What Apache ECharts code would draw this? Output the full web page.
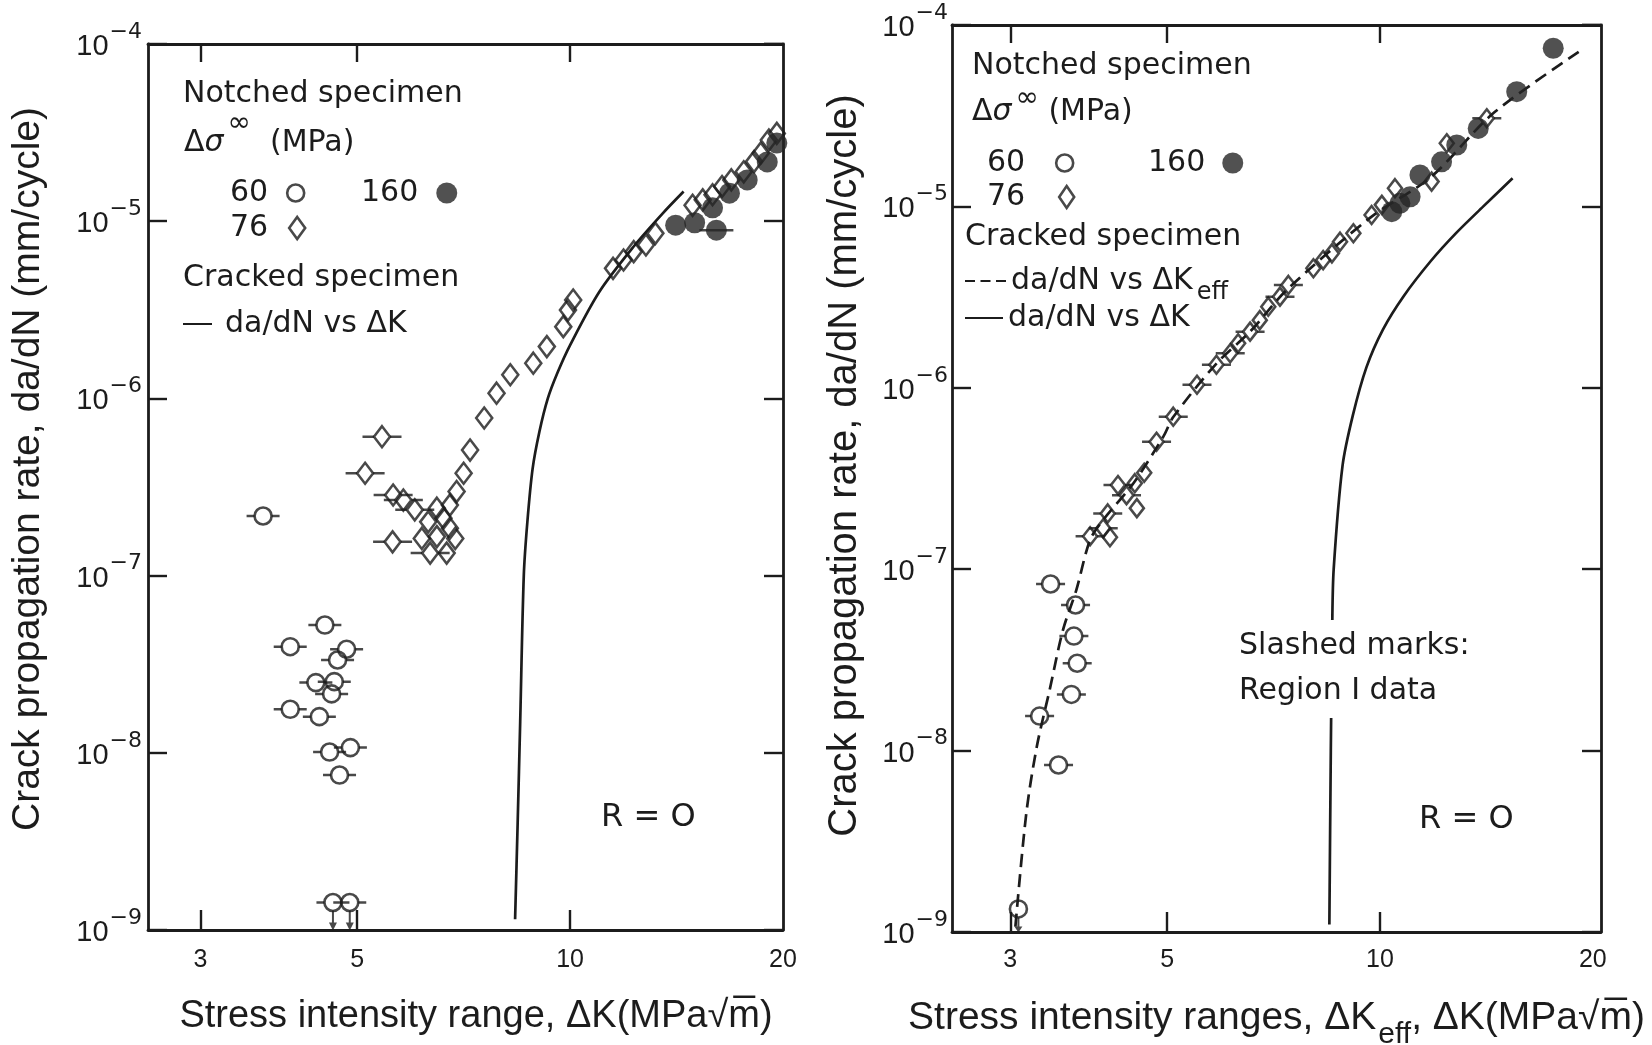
<!DOCTYPE html>
<html>
<head>
<meta charset="utf-8">
<title>Crack propagation rate vs stress intensity range</title>
<script src="https://cdn.jsdelivr.net/npm/echarts@6/dist/echarts.min.js"></script>
<style>
html, body { margin: 0; padding: 0; background: #fff; }
#chart { width: 1652px; height: 1045px; }
</style>
</head>
<body>
<div id="chart"></div>
<script>
// ---------- tick values (ΔK, MPa√m) ----------
const kLabels = [3, 5, 10, 20];
const kTickMarks = [3, 5, 10];

// ---------- left panel: da/dN vs ΔK ----------
// notched, Δσ∞ = 60 MPa (all region I data)
const left60 = [[3.68, 2.17e-7], [4.50, 5.26e-8], [4.02, 3.97e-8], [4.83, 3.84e-8], [4.69, 3.34e-8],
  [4.37, 2.49e-8], [4.64, 2.52e-8], [4.60, 2.15e-8], [4.02, 1.76e-8], [4.42, 1.60e-8],
  [4.57, 1.01e-8], [4.89, 1.07e-8], [4.72, 7.49e-9]];
// non-propagating, plotted at the lower limit
const left60Below = [[4.62, 1.43e-9], [4.88, 1.43e-9]];
// notched, Δσ∞ = 76 MPa
const left76 = [[6.17, 1.62e-7], [6.30, 2.01e-7], [6.48, 2.40e-7], [6.48, 1.66e-7], [6.62, 2.11e-7],
  [6.69, 1.34e-7], [6.76, 2.50e-7], [6.76, 1.85e-7], [6.88, 1.62e-7], [6.91, 2.98e-7],
  [7.07, 3.78e-7], [7.22, 5.11e-7], [7.56, 7.75e-7], [7.87, 1.07e-6], [8.23, 1.36e-6],
  [8.87, 1.58e-6], [9.27, 1.96e-6], [9.78, 2.54e-6], [9.93, 3.15e-6], [10.1, 3.59e-6],
  [11.5, 5.42e-6], [11.9, 6.04e-6], [12.3, 6.73e-6], [12.8, 7.34e-6], [13.2, 8.54e-6],
  [14.9, 1.23e-5], [15.4, 1.32e-5], [15.9, 1.41e-5], [16.4, 1.57e-5], [16.9, 1.71e-5],
  [17.6, 1.90e-5], [18.2, 2.17e-5], [18.6, 2.42e-5], [19.1, 2.87e-5], [19.6, 3.13e-5]];
const left76Slashed = [[5.13, 3.78e-7], [5.42, 6.08e-7], [5.61, 1.55e-7], [5.62, 2.85e-7],
  [5.81, 2.67e-7], [6.03, 2.35e-7], [6.34, 1.34e-7]];
// notched, Δσ∞ = 160 MPa
const left160 = [[14.1, 9.5e-6], [15.0, 9.8e-6], [15.9, 1.19e-5], [16.8, 1.44e-5],
  [17.8, 1.71e-5], [19.0, 2.16e-5], [19.6, 2.76e-5]];
const left160Slashed = [[16.1, 8.9e-6]];
// cracked specimen, da/dN vs ΔK
const leftCrackedDK = [[8.36, 1.15e-9], [8.43, 4e-9], [8.5, 1.5e-8], [8.6, 1e-7], [8.7, 2e-7],
  [8.85, 4e-7], [9.05, 6.5e-7], [9.3, 1e-6], [9.6, 1.4e-6], [10.0, 2e-6], [11.0, 4e-6],
  [12.3, 7.2e-6], [13.5, 1.1e-5], [14.47, 1.47e-5]];

// ---------- right panel: da/dN vs ΔK_eff ----------
const right60 = [[3.30, 1.55e-8], [3.42, 8.29e-8], [3.51, 8.33e-9], [3.66, 2.04e-8],
  [3.69, 4.28e-8], [3.71, 6.35e-8], [3.73, 3.03e-8]];
const right60Below = [[3.08, 1.34e-9]];
const right76 = [[4.15, 1.50e-7], [4.50, 2.98e-7], [4.53, 2.17e-7], [4.64, 3.40e-7], [6.30, 1.76e-6],
  [6.76, 2.36e-6], [6.95, 2.80e-6], [8.05, 4.56e-6], [8.31, 5.06e-6], [8.55, 5.51e-6],
  [8.78, 6.39e-6], [9.17, 7.11e-6], [9.73, 8.97e-6], [10.06, 1.02e-5], [10.5, 1.26e-5],
  [11.83, 1.37e-5], [12.43, 2.23e-5]];
const right76Slashed = [[3.89, 1.52e-7], [4.06, 1.68e-7], [4.12, 2.03e-7], [4.26, 2.91e-7],
  [4.38, 2.56e-7], [4.83, 5.04e-7], [5.10, 6.93e-7], [5.51, 1.04e-6], [5.87, 1.34e-6],
  [6.14, 1.55e-6], [6.55, 2.04e-6], [7.22, 3.18e-6], [7.42, 3.69e-6], [14.16, 3.06e-5]];
const right160 = [[10.39, 9.35e-6], [10.67, 1.04e-5], [11.03, 1.13e-5], [11.39, 1.49e-5],
  [12.22, 1.76e-5], [12.84, 2.18e-5], [13.77, 2.69e-5], [15.61, 4.29e-5], [17.58, 7.44e-5]];
// cracked specimen fits
const rightCrackedDKeff = [[3.05, 1.07e-9], [3.16, 4.5e-9], [3.27, 1.05e-8], [3.41, 2.16e-8],
  [3.56, 4.6e-8], [3.72, 7.7e-8], [3.89, 1.45e-7], [4.06, 1.87e-7], [4.48, 2.98e-7],
  [4.94, 5.4e-7], [5.10, 6.9e-7], [5.87, 1.36e-6], [6.55, 2.04e-6], [7.38, 3.46e-6],
  [9.7, 8.7e-6], [11.8, 1.45e-5], [14.46, 3.26e-5], [19.1, 7.1e-5]];
const rightCrackedDK = [[8.48, 1.1e-9], [8.52, 1e-8], [8.56, 5e-8], [8.6, 1e-7], [8.85, 3.7e-7],
  [9.15, 7e-7], [9.57, 1.3e-6], [10.1, 2.1e-6], [10.8, 3.2e-6], [11.8, 5.0e-6],
  [12.8, 7.1e-6], [14.0, 1.0e-5], [15.4, 1.43e-5]];

// ---------- styling ----------
const FONT = 'DejaVu Sans';
const FONT_AX = 'Liberation Sans';
const INK = '#1c1c1c';
const OPEN = { color: 'transparent', borderColor: INK, borderWidth: 2.6 };
const FILLED = { color: '#262626' };
const ARROW = 'path://M3,0H5V12H3Z M0,12H8L4,20Z';

// two short bars either side of a marker (slashed = region I data)
function barPath(total, gap) {
  const s = (total - gap) / 2;
  return 'path://M0,0H' + s + 'V1H0Z M' + (s + gap) + ',0H' + total + 'V1H' + (s + gap) + 'Z';
}

function scatter(name, g, data, symbol, size, style, z) {
  return {
    type: 'scatter', name: name, xAxisIndex: 2 * g, yAxisIndex: 2 * g, data: data,
    symbol: symbol, symbolSize: size, itemStyle: style, z: z || 4, silent: true,
    emphasis: { disabled: true }
  };
}
function slash(g, data, total, gap) {
  return scatter('region I', g, data, gap ? barPath(total, gap) : 'rect', [total, 2.5], { color: INK }, 3);
}
function arrow(g, data, len, off) {
  const s = scatter('below limit', g, data, ARROW, [8, len], { color: INK }, 3);
  s.symbolOffset = [0, off];
  return s;
}
function curve(name, g, data, dashed) {
  return {
    type: 'line', name: name, xAxisIndex: 2 * g, yAxisIndex: 2 * g, data: data,
    smooth: 0.3, symbol: 'none', silent: true, z: 2,
    lineStyle: { color: INK, width: 2.7, type: dashed ? [13, 7] : 'solid' }
  };
}

// ---------- axes ----------
function kAxes(g, min, max, name, nameGap, nameStyle, labelMargin) {
  const common = {
    type: 'log', gridIndex: g, min: min, max: max,
    axisLine: { show: true, lineStyle: { color: INK, width: 2.8 } },
    splitLine: { show: false }, minorTick: { show: false }, minorSplitLine: { show: false }
  };
  return [
    Object.assign({}, common, {
      position: 'bottom',
      axisTick: { show: true, inside: true, length: 20, customValues: kTickMarks, lineStyle: { color: INK, width: 2.4 } },
      axisLabel: {
        show: true, customValues: kLabels, margin: labelMargin, color: INK,
        fontFamily: FONT_AX, fontSize: 25, formatter: v => String(Math.round(v))
      },
      name: name, nameLocation: 'middle', nameGap: nameGap, nameMoveOverlap: false,
      nameTextStyle: nameStyle
    }),
    Object.assign({}, common, {
      position: 'top',
      axisTick: { show: true, inside: true, length: 18, customValues: kTickMarks, lineStyle: { color: INK, width: 2.4 } },
      axisLabel: { show: false }
    })
  ];
}
function rateAxes(g, nameGap, namePad, nameSize, labelMargin) {
  const common = {
    type: 'log', logBase: 10, gridIndex: g, min: 1e-9, max: 1e-4,
    axisLine: { show: true, lineStyle: { color: INK, width: 2.8 } },
    splitLine: { show: false }, minorTick: { show: false }, minorSplitLine: { show: false }
  };
  return [
    Object.assign({}, common, {
      position: 'left',
      axisTick: { show: true, inside: true, length: 19, lineStyle: { color: INK, width: 2.4 } },
      axisLabel: {
        show: true, margin: labelMargin, showMinLabel: true, showMaxLabel: true,
        lineHeight: 29,
        formatter: v => '{b|10}{s|\u2212' + Math.round(-Math.log10(v)) + '}',
        rich: {
          b: { fontFamily: FONT_AX, fontSize: 29, color: INK, lineHeight: 29, padding: [6, 0, 0, 0] },
          s: { fontFamily: FONT, fontSize: 22, color: INK, padding: [0, 0, 24, 1], lineHeight: 29 }
        }
      },
      name: 'Crack propagation rate, da/dN (mm/cycle)',
      nameLocation: 'middle', nameRotate: 90, nameGap: nameGap, nameMoveOverlap: false,
      nameTextStyle: { fontFamily: FONT_AX, fontSize: nameSize, color: INK, padding: [0, 0, 0, namePad] }
    }),
    Object.assign({}, common, {
      position: 'right',
      axisTick: { show: true, inside: true, length: 19, lineStyle: { color: INK, width: 2.4 } },
      axisLabel: { show: false }
    })
  ];
}

const xAxes = []
  .concat(kAxes(0, 2.53, 20, 'Stress intensity range, \u0394K(MPa\u221Am\u0305)', 68,
    { fontFamily: FONT_AX, fontSize: 38, color: INK, padding: [0, 0, 0, 21] }, 18))
  .concat(kAxes(1, 2.481, 20.54, '{a|Stress intensity ranges, \u0394K}{s|eff}{a|, \u0394K(MPa\u221Am\u0305)}', 67,
    {
      color: INK, lineHeight: 39,
      rich: {
        a: { fontFamily: FONT_AX, fontSize: 39, color: INK, lineHeight: 39 },
        s: { fontFamily: FONT_AX, fontSize: 30, color: INK, lineHeight: 39, padding: [33, 0, 0, 2] }
      }
    }, 16));
const yAxes = [].concat(rateAxes(0, 100, 36, 39, 6)).concat(rateAxes(1, 87, 26, 40, 4));

// ---------- legends ----------
const LEGEND_TEXT = { fontFamily: FONT, fontSize: 30, color: INK, lineHeight: 30 };
function keyLegend(name, left, top, icon, w, h, style, padRight) {
  return {
    left: left, top: top, padding: 0, itemGap: 0, align: 'right', selectedMode: false,
    itemWidth: w, itemHeight: h,
    data: [{ name: name, icon: icon, itemStyle: style }],
    textStyle: Object.assign({}, LEGEND_TEXT, { padding: [0, padRight, 0, 0] })
  };
}
function lineLegend(name, left, top, icon, w, padLeft, formatter) {
  const lg = {
    left: left, top: top, padding: 0, itemGap: 0, align: 'left', selectedMode: false,
    itemWidth: w, itemHeight: 2.6,
    data: [{ name: name, icon: icon, itemStyle: { color: INK, borderWidth: 0 } }],
    textStyle: Object.assign({}, LEGEND_TEXT, {
      padding: [0, 0, 0, padLeft],
      rich: {
        t: { fontFamily: FONT, fontSize: 30, color: INK, lineHeight: 30 },
        s: { fontFamily: FONT, fontSize: 24, color: INK, lineHeight: 30, padding: [24, 0, 0, 4] }
      }
    })
  };
  if (formatter) lg.formatter = formatter;
  return lg;
}
const DASH_ICON = 'path://M0,0h10v2h-10z M15.5,0h10v2h-10z M31,0h10v2h-10z';
const legends = [
  keyLegend('60', 230, 178, 'circle', 17, 17, OPEN, 14),
  keyLegend('160', 361, 178, 'circle', 21, 21, FILLED, 13),
  keyLegend('76', 230, 213, 'diamond', 16, 22, OPEN, 16),
  lineLegend('da/dN vs \u0394K', 183, 309, 'path://M0,0H29V2H0Z', 29, 8),
  keyLegend('60', 987, 148, 'circle', 17, 17, OPEN, 26),
  keyLegend('160', 1148, 148, 'circle', 21, 21, FILLED, 12),
  keyLegend('76', 987, 182, 'diamond', 15, 22, OPEN, 29),
  lineLegend('da/dN vs \u0394K_eff', 965, 257, DASH_ICON, 41, 0, () => '{t|da/dN vs \u0394K}{s|eff}'),
  lineLegend('da/dN vs \u0394K', 965, 303, 'path://M0,0H38V2H0Z', 38, 0)
];

// ---------- free text ----------
function label(x, y, text, size, extra) {
  return {
    type: 'text', x: x, y: y, z: 100, silent: true,
    style: Object.assign({
      text: text, fontFamily: FONT, fontSize: size || 30, fill: INK,
      align: 'left', verticalAlign: 'middle'
    }, extra || {})
  };
}
function stressLabel(x, y, raise, gap) {
  return label(x, y, '{d|\u0394}{g|\u03C3}{s|\u221E}{d|' + gap + '(MPa)}', 30, {
    lineHeight: 30,
    rich: {
      d: { fontFamily: FONT, fontSize: 30, fill: INK, lineHeight: 30 },
      g: { fontFamily: FONT, fontSize: 30, fontStyle: 'italic', fill: INK, lineHeight: 30 },
      s: { fontFamily: FONT, fontSize: 28, fill: INK, lineHeight: 30, padding: [0, 0, raise * 2, 4] }
    }
  });
}
const graphics = [
  label(183, 94, 'Notched specimen'),
  stressLabel(184, 143, 19, '  '),
  label(183, 278, 'Cracked specimen'),
  label(601, 818, 'R = O', 32),
  label(972, 66, 'Notched specimen'),
  stressLabel(972, 112, 13, ' '),
  label(965, 237, 'Cracked specimen'),
  label(1419, 820, 'R = O', 32),
  label(1231, 620, 'Slashed marks:\nRegion I data', 30, {
    verticalAlign: 'top', lineHeight: 45, backgroundColor: '#fff', padding: [4, 8, 4, 8]
  })
];

// ---------- series ----------
const series = [
  curve('da/dN vs \u0394K', 0, leftCrackedDK),
  slash(0, left60.concat(left60Below), 33, 17),
  slash(0, left76Slashed, 39, 16),
  slash(0, left160Slashed, 34),
  arrow(0, left60Below, 20, 18),
  scatter('60', 0, left60.concat(left60Below), 'circle', 17, OPEN),
  scatter('76', 0, left76.concat(left76Slashed), 'diamond', [16, 21], OPEN),
  scatter('160', 0, left160.concat(left160Slashed), 'circle', 21, FILLED),

  curve('da/dN vs \u0394K_eff', 1, rightCrackedDKeff, true),
  curve('da/dN vs \u0394K', 1, rightCrackedDK),
  slash(1, right60, 29, 17),
  slash(1, right76Slashed, 29, 14),
  arrow(1, right60Below, 15, 16),
  scatter('60', 1, right60.concat(right60Below), 'circle', 17, OPEN),
  scatter('76', 1, right76.concat(right76Slashed), 'diamond', [14, 18], OPEN),
  scatter('160', 1, right160, 'circle', 21, FILLED)
];

const chart = echarts.init(document.getElementById('chart'), null, { renderer: 'canvas' });
chart.setOption({
  animation: false,
  backgroundColor: '#fff',
  textStyle: { fontFamily: FONT, color: INK },
  grid: [
    { left: 148, top: 44, width: 635, height: 886, containLabel: false, outerBoundsMode: 'none' },
    { left: 952, top: 25, width: 649, height: 907, containLabel: false, outerBoundsMode: 'none' }
  ],
  xAxis: xAxes,
  yAxis: yAxes,
  legend: legends,
  graphic: graphics,
  series: series
});
</script>
</body>
</html>
